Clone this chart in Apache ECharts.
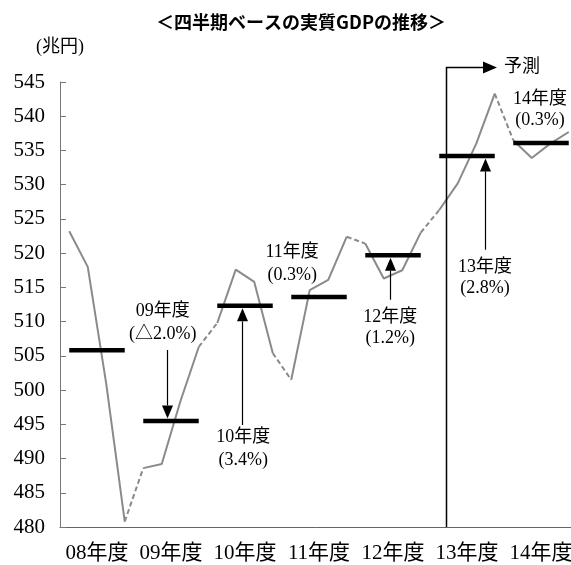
<!DOCTYPE html>
<html>
<head>
<meta charset="utf-8">
<script src="https://cdn.jsdelivr.net/npm/echarts@6/dist/echarts.min.js"></script>
<style>
  html, body { margin: 0; padding: 0; background: #fff; }
  #chart { width: 571px; height: 565px; }
</style>
</head>
<body>
<div id="chart"></div>
<script>
// Fiscal years on the category axis
const years = ['08年度', '09年度', '10年度', '11年度', '12年度', '13年度', '14年度'];

// Quarterly real GDP (trillion yen), four quarters per fiscal year
const quarterly = [
  523.2, 518.0, 500.9, 480.8,
  488.6, 489.2, 498.3, 506.3,
  509.8, 517.6, 515.8, 505.4,
  501.5, 514.6, 516.1, 522.4,
  521.4, 516.3, 517.5, 523.0,
  526.3, 530.2, 536.0, 543.3,
  536.5, 533.9, 536.0, 537.7
];

// Fiscal-year averages (trillion yen)
const annual = [505.8, 495.5, 512.3, 513.6, 519.7, 534.2, 536.1];

// Year-on-year growth captions
const growthLabels = ['', '(△2.0%)', '(3.4%)', '(0.3%)', '(1.2%)', '(2.8%)', '(0.3%)'];

const SERIF = '"Liberation Serif", "Noto Sans CJK JP", serif';
const GREY = '#8a8a8a';

const chart = echarts.init(document.getElementById('chart'), null, { renderer: 'canvas' });

const series = [];
years.forEach((_, y) => {
  // quarterly path within the fiscal year
  series.push({
    type: 'line', xAxisIndex: 1, yAxisIndex: 0, symbol: 'none', silent: true, z: 2,
    lineStyle: { color: GREY, width: 2 },
    data: [0, 1, 2, 3].map(k => [4 * y + k + 0.5, quarterly[4 * y + k]])
  });
  // dashed link from the previous year's last quarter
  if (y > 0) {
    series.push({
      type: 'line', xAxisIndex: 1, yAxisIndex: 0, symbol: 'none', silent: true, z: 2,
      lineStyle: { color: GREY, width: 2, type: [5, 3] },
      data: [[4 * y - 0.5, quarterly[4 * y - 1]], [4 * y + 0.5, quarterly[4 * y]]]
    });
  }
  // annual average bar
  series.push({
    type: 'line', xAxisIndex: 1, yAxisIndex: 0, symbol: 'none', silent: true, z: 3,
    lineStyle: { color: '#000', width: 4.5, cap: 'butt' },
    data: [[4 * y + 0.5, annual[y]], [4 * y + 3.5, annual[y]]]
  });
});

chart.setOption({
  animation: false,
  backgroundColor: '#fff',
  grid: { left: 60, top: 82, width: 518, height: 445, containLabel: false, outerBoundsMode: 'none' },
  xAxis: [
    {
      type: 'category', data: years, boundaryGap: true, position: 'bottom',
      axisLine: { lineStyle: { color: '#666', width: 1 } },
      axisTick: { inside: true, length: 7, lineStyle: { color: '#666' } },
      axisLabel: { interval: 0, margin: 16, color: '#000', fontSize: 21, fontFamily: SERIF },
      splitLine: { show: false }
    },
    { type: 'value', min: 0, max: 28, show: false }
  ],
  yAxis: {
    type: 'value', min: 480, max: 545, interval: 5,
    axisLine: { show: true, lineStyle: { color: '#777', width: 1 } },
    axisTick: { show: true, inside: true, length: 6, lineStyle: { color: '#777' } },
    axisLabel: { margin: 15, color: '#000', fontSize: 21, fontFamily: SERIF },
    splitLine: { show: false }
  },
  series: series
});

// Annotations placed in data units (quarter index, trillion yen)
const P = (q, v) => chart.convertToPixel({ xAxisIndex: 1, yAxisIndex: 0 }, [q, v]);
const g = [];
const text = (x, y, s, size, align) => g.push({
  type: 'text', z: 10, silent: true,
  style: { text: s, x: x, y: y, align: align || 'center', verticalAlign: 'middle',
           font: size + 'px ' + SERIF, fill: '#000' }
});

function arrow(q, fromV, toV, dir) {
  const top = P(q, fromV);
  const bar = P(q, toV);
  const x = Math.round(top[0]) + 0.5;
  const tip = dir === 'down' ? bar[1] - 2.5 : bar[1] + 2.5;
  const head = dir === 'down' ? tip - 13 : tip + 13;
  g.push({ type: 'line', z: 10, silent: true,
           shape: { x1: x, y1: top[1], x2: x, y2: head },
           style: { stroke: '#000', lineWidth: 1.2 } });
  g.push({ type: 'polygon', z: 10, silent: true,
           shape: { points: [[x - 5.5, head], [x + 5.5, head], [x, tip]] },
           style: { fill: '#000' } });
}

const notes = [
  { year: 1, q: 5.55, v: [511.45, 508.2], arrow: { q: 5.78, from: 505.85, dir: 'down' } },
  { year: 2, q: 9.9, v: [493.1, 489.8], arrow: { q: 9.86, from: 494.9, dir: 'up' } },
  { year: 3, q: 12.55, v: [520.2, 516.8] },
  { year: 4, q: 17.85, v: [510.7, 507.6], arrow: { q: 17.83, from: 513.2, dir: 'up' } },
  { year: 5, q: 22.97, v: [518.0, 514.9], arrow: { q: 22.97, from: 520.5, dir: 'up' } },
  { year: 6, q: 25.95, v: [542.5, 539.45] }
];
notes.forEach(n => {
  const a = P(n.q, n.v[0]);
  const b = P(n.q, n.v[1]);
  text(a[0], a[1], years[n.year], 18);
  text(b[0], b[1], growthLabels[n.year], 18);
  if (n.arrow) arrow(n.arrow.q, n.arrow.from, annual[n.year], n.arrow.dir);
});

// Forecast bracket
const f0 = P(20.86, 480), f1 = P(20.86, 547.15), f2 = P(23.62, 547.15);
const fx = Math.round(f0[0]) + 0.5, fy = Math.round(f1[1]) + 0.5;
g.push({ type: 'polyline', z: 10, silent: true,
         shape: { points: [[fx, f0[1]], [fx, fy], [f2[0] - 13, fy]] },
         style: { stroke: '#000', lineWidth: 1.5, fill: null } });
g.push({ type: 'polygon', z: 10, silent: true,
         shape: { points: [[f2[0] - 14, fy - 6], [f2[0] - 14, fy + 6], [f2[0], fy]] },
         style: { fill: '#000' } });
text(f2[0] + 7, fy, '予測', 18, 'left');

// Title and unit
g.push({ type: 'text', z: 10, silent: true,
         style: { text: '＜四半期ベースの実質GDPの推移＞', x: 301, y: 22, align: 'center', verticalAlign: 'middle',
                  font: 'bold 18px "Noto Sans CJK JP", sans-serif', fill: '#000' } });
text(60, 47, '(兆円)', 18);

chart.setOption({ graphic: g });
</script>
</body>
</html>
